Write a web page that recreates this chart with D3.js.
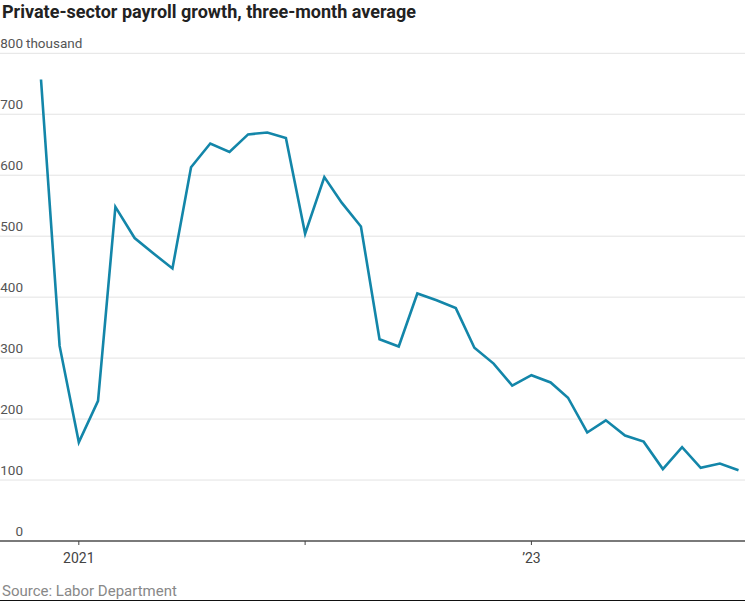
<!DOCTYPE html>
<html>
<head>
<meta charset="utf-8">
<script src="https://cdn.jsdelivr.net/npm/d3@7"></script>
<style>
  body { margin: 0; background: #fff; }
  svg { display: block; font-family: "Roboto", sans-serif; }
</style>
</head>
<body>
<svg id="chart"></svg>
<script>
// Chart size
const width = 745;
const height = 601;

// Data: monthly, Nov 2020 - Dec 2023 (thousands)
const months = [
  "2020-11", "2020-12",
  "2021-01", "2021-02", "2021-03", "2021-04", "2021-05", "2021-06",
  "2021-07", "2021-08", "2021-09", "2021-10", "2021-11", "2021-12",
  "2022-01", "2022-02", "2022-03", "2022-04", "2022-05", "2022-06",
  "2022-07", "2022-08", "2022-09", "2022-10", "2022-11", "2022-12",
  "2023-01", "2023-02", "2023-03", "2023-04", "2023-05", "2023-06",
  "2023-07", "2023-08", "2023-09", "2023-10", "2023-11", "2023-12"
];
const values = [
  757, 320,
  162, 230, 548, 497, 472, 447,
  613, 652, 638, 667, 670, 661,
  504, 597, 555, 516, 331, 319,
  406, 395, 382, 317, 291, 255,
  272, 260, 235, 178, 198, 173,
  163, 118, 154, 120, 127, 116
];
const yTicks = [0, 100, 200, 300, 400, 500, 600, 700, 800];
const xTickYears = ["2021", "2022", "2023"];
const xTickLabels = ["2021", "", "\u201923"];

const parseMonth = d3.timeParse("%Y-%m");
const data = months.map((m, i) => ({ date: parseMonth(m), value: values[i] }));

const svg = d3.select("#chart")
    .attr("width", width)
    .attr("height", height);

// Scales
const x = d3.scaleTime()
    .domain([parseMonth("2020-11"), parseMonth("2023-12")])
    .range([41, 738.5]);

const y = d3.scaleLinear()
    .domain([0, 800])
    .range([541, 53.3]);

// Title
svg.append("text")
    .attr("x", 2)
    .attr("y", 18)
    .attr("font-size", 18)
    .attr("font-weight", "bold")
    .attr("fill", "#222")
    .text("Private-sector payroll growth, three-month average");

// Gridlines
svg.append("g")
    .selectAll("line")
    .data(yTicks.filter(d => d > 0))
    .join("line")
    .attr("x1", 0)
    .attr("x2", width)
    .attr("y1", d => y(d))
    .attr("y2", d => y(d))
    .attr("stroke", "#e3e3e3")
    .attr("stroke-width", 1);

// Y labels
const yLab = svg.append("g")
    .attr("font-size", 13.5)
    .attr("fill", "#555");

yLab.selectAll("text")
    .data(yTicks)
    .join("text")
    .attr("x", 23)
    .attr("y", d => y(d) - 5)
    .attr("text-anchor", "end")
    .text(d => d);

yLab.append("text")
    .attr("x", 26)
    .attr("y", y(800) - 5)
    .text("thousand");

// X axis baseline
svg.append("line")
    .attr("x1", 0)
    .attr("x2", width)
    .attr("y1", y(0))
    .attr("y2", y(0))
    .attr("stroke", "#7a7a7a")
    .attr("stroke-width", 1.8);

const xTicks = xTickYears.map(d => d3.timeParse("%Y")(d));

svg.append("g")
    .selectAll("line")
    .data(xTicks)
    .join("line")
    .attr("x1", d => x(d))
    .attr("x2", d => x(d))
    .attr("y1", y(0))
    .attr("y2", y(0) + 4)
    .attr("stroke", "#444")
    .attr("stroke-width", 1);

svg.append("g")
    .attr("font-size", 14)
    .attr("fill", "#444")
    .selectAll("text")
    .data(xTicks)
    .join("text")
    .attr("x", d => x(d))
    .attr("y", 563)
    .attr("text-anchor", "middle")
    .text((d, i) => xTickLabels[i]);

// Line
const line = d3.line()
    .x(d => x(d.date))
    .y(d => y(d.value));

svg.append("path")
    .datum(data)
    .attr("fill", "none")
    .attr("stroke", "#1386a9")
    .attr("stroke-width", 2.6)
    .attr("stroke-linejoin", "miter")
    .attr("d", line);

// Source
svg.append("text")
    .attr("x", 2)
    .attr("y", 596)
    .attr("font-size", 15)
    .attr("fill", "#888")
    .text("Source: Labor Department");

// bottom edge
svg.append("line")
    .attr("x1", 0)
    .attr("x2", width)
    .attr("y1", 600.5)
    .attr("y2", 600.5)
    .attr("stroke", "#111")
    .attr("stroke-width", 1);
</script>
</body>
</html>
